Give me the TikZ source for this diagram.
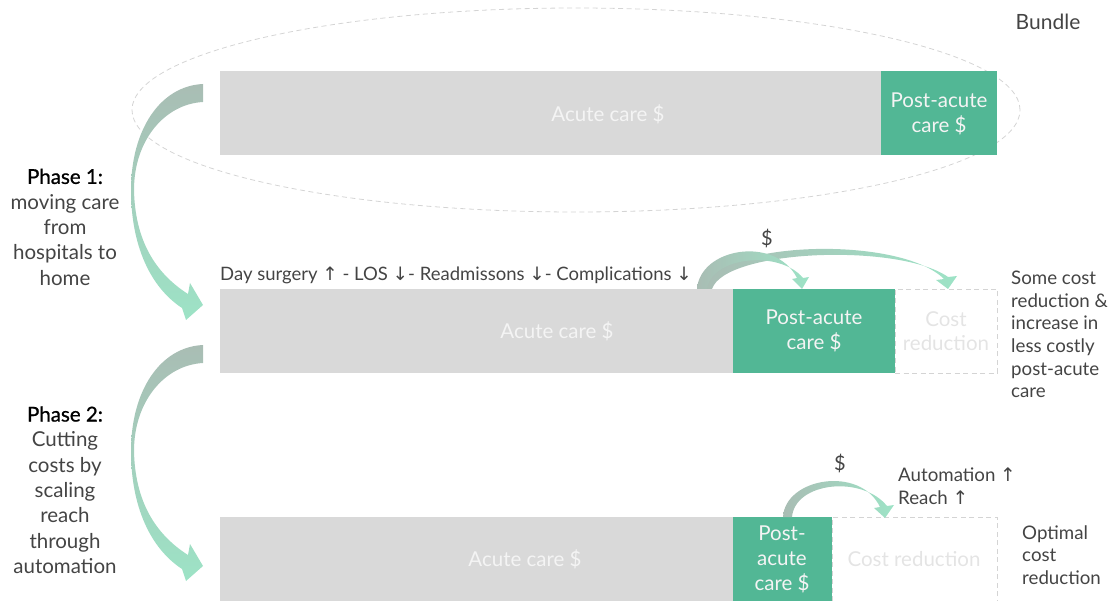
\documentclass[tikz,border=0pt]{standalone}
\usepackage{fontspec}
\setmainfont{Lato}
\newfontfamily\arrfont{DejaVu Sans}
\usetikzlibrary{shapes.geometric}
\definecolor{bargrey}{HTML}{D9D9D9}
\definecolor{bargreen}{HTML}{52B795}
\definecolor{txt}{HTML}{444444}
\definecolor{arrtop}{HTML}{A9BDB4}
\definecolor{arrbot}{HTML}{9DE3C6}
\definecolor{dashgrey}{HTML}{D4D4D4}
\definecolor{bartxt}{HTML}{F4F4F4}
\definecolor{cuttxt}{HTML}{E4E4E4}
\newcommand{\up}{{\arrfont\char"2191}}
\newcommand{\dn}{{\arrfont\char"2193}}
\begin{document}
\begin{tikzpicture}[x=1pt,y=-1pt,
  barpart/.style={anchor=north west, inner sep=0pt, outer sep=0pt, minimum height=84pt},
  greybar/.style={barpart, fill=bargrey},
  greenbar/.style={barpart, fill=bargreen},
  cutbox/.style={barpart, draw=dashgrey, dash pattern=on 5pt off 3.5pt, line width=0.8pt},
  bartext/.style={text=bartxt, font=\fontsize{20.5}{24.5}\selectfont, align=center, inner sep=0pt},
  cuttext/.style={text=cuttxt, font=\fontsize{20.5}{24.5}\selectfont, align=center, inner sep=0pt},
  phase/.style={text=txt, font=\fontsize{20.5}{25.3}\selectfont, align=center, inner sep=0pt},
  note/.style={text=txt, font=\fontsize{18.7}{22.6}\selectfont, align=left, inner sep=0pt, anchor=west},
  dollar/.style={text=txt, font=\fontsize{20}{24}\selectfont, inner sep=0pt},
  bigarrow/.style={top color=arrtop, bottom color=arrbot},
  smallarrow/.style={left color=arrtop, right color=arrbot}
]
\useasboundingbox (0,0) rectangle (1113,601);

% bundle ellipse
\node[ellipse, draw=dashgrey, dash pattern=on 5pt off 3.5pt, line width=0.8pt,
      minimum width=888pt, minimum height=204pt, inner sep=0pt] (ell) at (576,110) {};
\node[text=txt, font=\fontsize{21}{24}\selectfont, inner sep=0pt] (bundle) at (1048,22) {Bundle};

% bar 1
\node[greybar, minimum width=661pt] (g1) at (220,71) {};
\node[greenbar, minimum width=116pt] (p1) at (881,71) {};
\node[bartext] (g1t) at (608,114) {Acute care \$};
\node[bartext] (p1t) at (939,114) {Post-acute\\care \$};

% bar 2
\node[greybar, minimum width=513pt] (g2) at (220,289) {};
\node[greenbar, minimum width=162pt] (p2) at (733,289) {};
\node[cutbox, minimum width=102pt] (c2) at (895,289) {};
\node[bartext] (g2t) at (557,331) {Acute care \$};
\node[bartext] (p2t) at (814,331) {Post-acute\\care \$};
\node[cuttext] (c2t) at (946,331) {Cost\\reduction};

% bar 3
\node[greybar, minimum width=513pt, minimum height=84pt] (g3) at (220,517) {};
\node[greenbar, minimum width=99pt] (p3) at (733,517) {};
\node[cutbox, minimum width=165pt] (c3) at (832,517) {};
\node[bartext] (g3t) at (525,559) {Acute care \$};
\node[bartext, font=\fontsize{20.5}{25}\selectfont] (p3t) at (782,559) {Post-\\acute\\care \$};
\node[cuttext] (c3t) at (914,559) {Cost reduction};

% phase labels
\node[phase] (ph1) at (65,227) {\textcolor{black}{\addfontfeature{FakeBold=0.9}Phase 1:}\\moving care\\from\\hospitals to\\home};
\node[phase] (ph2) at (65,490) {\textcolor{black}{\addfontfeature{FakeBold=0.9}Phase 2:}\\Cutting\\costs by\\scaling\\reach\\through\\automation};

% big curved arrows
\foreach \dy in {0,261}{
\begin{scope}[shift={(0,\dy)}]
\shade[bigarrow] (203,84) .. controls (160,86) and (131,130) .. (131,190)
   .. controls (131,245) and (150,287) .. (182,308) -- (186,320) -- (203,305) -- (190,283) -- (188,294)
   .. controls (155,273) and (135,240) .. (134,190)
   .. controls (134,140) and (165,104) .. (203,102) -- cycle;
\end{scope}}

% phase-1 note
\node[note, font=\fontsize{18.5}{22.6}\selectfont] (ds) at (220,275) {Day surgery \up{} - LOS \dn- Readmissons \dn- Complications \dn};
\node[dollar] (d1) at (767,238) {\$};

\shade[smallarrow] (703,289) .. controls (715,240) and (900,235) .. (944,279) -- (936,280) -- (948,289) -- (957,276) -- (948,277)
   .. controls (900,243) and (725,249) .. (712,289) -- cycle;
\shade[smallarrow] (697,289) .. controls (700,248) and (775,235) .. (797,278) -- (792,279) -- (802,289) -- (809,277) -- (803,278)
   .. controls (780,250) and (712,256) .. (707,289) -- cycle;

\node[note] (n1) at (1011,334.5) {Some cost\\reduction \&\\increase in\\less costly\\post-acute\\care};

% phase-2 note
\node[dollar] (d2) at (840,463) {\$};
\shade[smallarrow] (783,517) .. controls (785,478) and (860,465) .. (880,507) -- (874,508) -- (885,518) -- (894,505) -- (887,506)
   .. controls (862,475) and (795,482) .. (792,517) -- cycle;
\node[note] (au) at (898,486) {Automation \up\\Reach \up};
\node[note] (n2) at (1022,555) {Optimal\\cost\\reduction};
\end{tikzpicture}
\end{document}
